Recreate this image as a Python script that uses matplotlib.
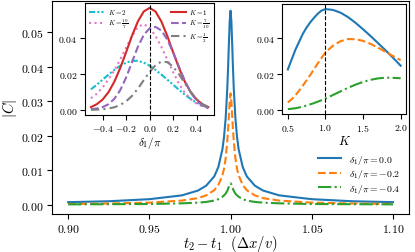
import matplotlib
matplotlib.use("Agg")
import matplotlib.pyplot as plt

# main panel: |C| against t2 - t1 for three values of delta_1
t_diff = [0.900, 0.925, 0.950, 0.970, 0.980, 0.985, 0.990, 0.9925, 0.995, 0.996,
          0.997, 0.998, 0.9985, 0.999, 0.9995, 1.000, 1.0005, 1.001, 1.0015, 1.002,
          1.003, 1.004, 1.005, 1.0075, 1.010, 1.015, 1.020, 1.030, 1.050, 1.075, 1.100]
c_d00 = [0.00084, 0.0011, 0.0017, 0.0028, 0.0042, 0.0056, 0.0083, 0.0110, 0.0161, 0.0197,
         0.0251, 0.0337, 0.0397, 0.0468, 0.0533, 0.0562, 0.0533, 0.0468, 0.0397, 0.0337,
         0.0251, 0.0197, 0.0161, 0.0110, 0.0083, 0.0056, 0.0042, 0.0028, 0.0017, 0.0011, 0.00084]
c_d02 = [0.0003, 0.00045, 0.0007, 0.0013, 0.0020, 0.0028, 0.0043, 0.0058, 0.0086, 0.0105,
         0.0135, 0.0185, 0.0218, 0.0260, 0.0300, 0.0323, 0.0300, 0.0260, 0.0218, 0.0185,
         0.0135, 0.0105, 0.0086, 0.0058, 0.0043, 0.0028, 0.0020, 0.0013, 0.0007, 0.00045, 0.0003]
c_d04 = [0.0002, 0.00025, 0.0003, 0.0005, 0.0007, 0.0009, 0.0013, 0.0017, 0.0024, 0.0028,
         0.0033, 0.0041, 0.0047, 0.0054, 0.0060, 0.0063, 0.0060, 0.0054, 0.0047, 0.0041,
         0.0033, 0.0028, 0.0024, 0.0017, 0.0013, 0.0009, 0.0007, 0.0005, 0.0003, 0.00025, 0.0002]
main_labels = [r"$\delta_1/\pi = 0.0$", r"$\delta_1/\pi = -0.2$", r"$\delta_1/\pi = -0.4$"]

# left inset: |C| against delta_1/pi at the peak for several K
delta = [-0.50, -0.45, -0.40, -0.35, -0.30, -0.25, -0.20, -0.15, -0.10, -0.05, 0.00,
         0.05, 0.10, 0.15, 0.20, 0.25, 0.30, 0.35, 0.40, 0.45, 0.50]
c_k2 = [0.0114, 0.0140, 0.0168, 0.0196, 0.0222, 0.0245, 0.0262, 0.0272, 0.0272, 0.0262, 0.0245,
        0.0222, 0.0196, 0.0168, 0.0140, 0.0112, 0.0085, 0.0061, 0.0040, 0.0024, 0.0013]
c_k10_7 = [0.0065, 0.0090, 0.0125, 0.0170, 0.0220, 0.0280, 0.0345, 0.0410, 0.0460, 0.0475, 0.0455,
           0.0410, 0.0350, 0.0280, 0.0210, 0.0145, 0.0095, 0.0060, 0.0035, 0.0020, 0.0012]
c_k1 = [0.0016, 0.0032, 0.0058, 0.0099, 0.0157, 0.0233, 0.0320, 0.0411, 0.0490, 0.0545, 0.0565,
        0.0545, 0.0490, 0.0411, 0.0320, 0.0233, 0.0157, 0.0099, 0.0058, 0.0032, 0.0016]
c_k7_10 = [0.0004, 0.0008, 0.0016, 0.0032, 0.0062, 0.0110, 0.0180, 0.0265, 0.0350, 0.0415, 0.0452,
           0.0460, 0.0440, 0.0390, 0.0320, 0.0240, 0.0162, 0.0097, 0.0052, 0.0024, 0.0009]
c_k1_2 = [0.0001, 0.0002, 0.0004, 0.0008, 0.0015, 0.0028, 0.0048, 0.0078, 0.0118, 0.0165, 0.0210,
          0.0248, 0.0268, 0.0265, 0.0240, 0.0198, 0.0148, 0.0100, 0.0060, 0.0032, 0.0015]

# right inset: peak |C| against K
k_vals = [0.5, 0.55, 0.6, 0.65, 0.7, 0.75, 0.8, 0.85, 0.9, 0.95, 1.0, 1.1, 1.2, 1.3, 1.4,
          1.5, 1.6, 1.7, 1.8, 1.9, 2.0]
k_d00 = [0.0225, 0.0280, 0.0335, 0.0380, 0.0425, 0.0460, 0.0490, 0.0515, 0.0538, 0.0555, 0.0563,
         0.0558, 0.0543, 0.0518, 0.0486, 0.0450, 0.0412, 0.0372, 0.0332, 0.0290, 0.0246]
k_d02 = [0.0040, 0.0058, 0.0080, 0.0106, 0.0135, 0.0165, 0.0195, 0.0228, 0.0260, 0.0291, 0.0320,
         0.0358, 0.0383, 0.0395, 0.0394, 0.0385, 0.0368, 0.0347, 0.0323, 0.0300, 0.0277]
k_d04 = [0.0003, 0.0005, 0.0008, 0.0012, 0.0017, 0.0023, 0.0030, 0.0037, 0.0045, 0.0053, 0.0062,
         0.0082, 0.0102, 0.0122, 0.0140, 0.0155, 0.0167, 0.0175, 0.0179, 0.0178, 0.0176]

plt.rcParams.update({
    "font.family": "serif",
    "font.serif": ["cmr10"],
    "mathtext.fontset": "cm",
    "axes.formatter.use_mathtext": True,
    "axes.unicode_minus": True,
})

fig = plt.figure(figsize=(4.15, 2.53), dpi=100)
ax = fig.add_axes([0.125, 0.150, 0.861, 0.842])

ax.plot(t_diff, c_d00, color="#1f77b4", lw=1.5, label=main_labels[0])
ax.plot(t_diff, c_d02, color="#ff7f0e", lw=1.5, ls="--", label=main_labels[1])
ax.plot(t_diff, c_d04, color="#2ca02c", lw=1.5, ls="-.", label=main_labels[2])
ax.set_xticks([0.90, 0.95, 1.00, 1.05, 1.10])
ax.set_yticks([0.00, 0.01, 0.02, 0.03, 0.04, 0.05])
ax.tick_params(labelsize=8.5, pad=2.5)
ax.set_xlabel(r"$t_2 - t_1\ \ (\Delta x/v)$", fontsize=10.5, labelpad=-1)
ax.set_ylabel(r"$|C|$", fontsize=10.5, labelpad=1)
ax.legend(loc="lower right", bbox_to_anchor=(1.0, 0.05), frameon=False,
          fontsize=7, handlelength=2.4, labelspacing=0.15)

# left inset
ax1 = fig.add_axes([0.205, 0.542, 0.311, 0.443])
l_k2, = ax1.plot(delta, c_k2, color="#17becf", lw=1.5, ls=(0, (3, 1, 1, 1, 1, 1)), label=r"$K=2$")
l_k107, = ax1.plot(delta, c_k10_7, color="#e377c2", lw=1.5, ls=":", label=r"$K=\frac{10}{7}$")
l_k1, = ax1.plot(delta, c_k1, color="#d62728", lw=1.5, label=r"$K=1$")
l_k710, = ax1.plot(delta, c_k7_10, color="#9467bd", lw=1.5, ls="--", label=r"$K=\frac{7}{10}$")
l_k12, = ax1.plot(delta, c_k1_2, color="#7f7f7f", lw=1.5, ls=(0, (4, 2, 1, 2)), label=r"$K=\frac{1}{2}$")
ax1.axvline(0.0, color="k", ls="--", lw=0.8)
ax1.set_xticks([-0.4, -0.2, 0.0, 0.2, 0.4])
ax1.set_yticks([0.00, 0.02, 0.04])
ax1.tick_params(labelsize=7, pad=2)
ax1.set_xlabel(r"$\delta_1/\pi$", fontsize=8, labelpad=1)
leg_a = ax1.legend(handles=[l_k2, l_k107], loc="upper left", frameon=False, fontsize=5,
                   handlelength=2.2, labelspacing=0.1, borderaxespad=0.2, handletextpad=0.5)
ax1.add_artist(leg_a)
ax1.legend(handles=[l_k1, l_k710, l_k12], loc="upper right", frameon=False, fontsize=5,
           handlelength=2.2, labelspacing=0.1, borderaxespad=0.2, handletextpad=0.5)

# right inset
ax2 = fig.add_axes([0.680, 0.545, 0.299, 0.435])
ax2.plot(k_vals, k_d00, color="#1f77b4", lw=1.5)
ax2.plot(k_vals, k_d02, color="#ff7f0e", lw=1.5, ls="--")
ax2.plot(k_vals, k_d04, color="#2ca02c", lw=1.5, ls="-.")
ax2.axvline(1.0, color="k", ls="--", lw=0.8)
ax2.set_xticks([0.5, 1.0, 1.5, 2.0])
ax2.set_yticks([0.00, 0.02, 0.04])
ax2.tick_params(labelsize=7, pad=2)
ax2.set_xlabel(r"$K$", fontsize=9, labelpad=1)

fig.savefig("out.png", dpi=100)
